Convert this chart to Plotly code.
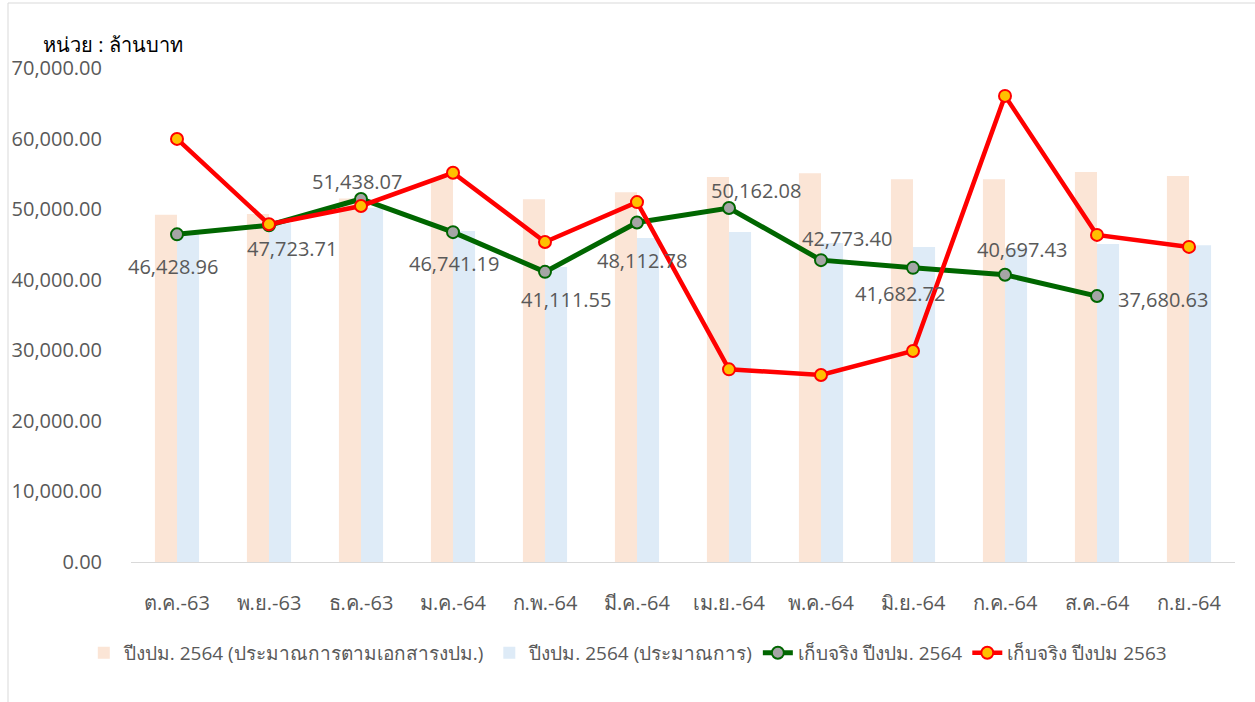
import plotly.graph_objects as go

months = ["ต.ค.-63", "พ.ย.-63", "ธ.ค.-63", "ม.ค.-64", "ก.พ.-64", "มี.ค.-64",
          "เม.ย.-64", "พ.ค.-64", "มิ.ย.-64", "ก.ค.-64", "ส.ค.-64", "ก.ย.-64"]
budget_doc_2564 = [49200, 49300, 51500, 54400, 51400, 52400,
                   54550, 55100, 54250, 54250, 55250, 54700]
budget_est_2564 = [46600, 48000, 50200, 46900, 41800, 45900,
                   46750, 45200, 44650, 44500, 45050, 44900]
actual_2564 = [46428.96, 47723.71, 51438.07, 46741.19, 41111.55, 48112.78,
               50162.08, 42773.40, 41682.72, 40697.43, 37680.63, None]
actual_2563 = [59950, 47850, 50450, 55150, 45350, 51000,
               27300, 26500, 29900, 66050, 46350, 44650]

series_names = ["ปีงปม. 2564 (ประมาณการตามเอกสารงปม.)", "ปีงปม. 2564 (ประมาณการ)",
                "เก็บจริง ปีงปม. 2564", "เก็บจริง ปีงปม 2563"]
unit_label = "หน่วย : ล้านบาท"
yticks = [0, 10000, 20000, 30000, 40000, 50000, 60000, 70000]

# label offsets (px) for green data labels
label_dx = [-4, 23, -4, 1, 21, 5, 27, 26, -13, 17, 66, 0]
label_dy = [-32, -23, 17, -31, -28, -38, 18, 22, -26, 25, -3, 0]

FONT = "Open Sans, Noto Sans, sans-serif"
GRAY = "#595959"

fig = go.Figure()
fig.add_trace(go.Bar(x=months, y=budget_doc_2564, name=series_names[0],
                     marker=dict(color="#FBE5D6", line=dict(width=0))))
fig.add_trace(go.Bar(x=months, y=budget_est_2564, name=series_names[1],
                     marker=dict(color="#DEEBF7", line=dict(width=0))))
fig.add_trace(go.Scatter(x=months, y=actual_2564, name=series_names[2], mode="lines+markers",
                         line=dict(color="#006600", width=5),
                         marker=dict(size=12, color="#A5A5A5", line=dict(color="#006600", width=2))))
fig.add_trace(go.Scatter(x=months, y=actual_2563, name=series_names[3], mode="lines+markers",
                         line=dict(color="#FF0000", width=4.5),
                         marker=dict(size=12, color="#FFC000", line=dict(color="#FF0000", width=2))))

annotations = []
for m, v, dx, dy in zip(months, actual_2564, label_dx, label_dy):
    if v is None:
        continue
    annotations.append(dict(x=m, y=v, xref="x", yref="y", text=f"{v:,.2f}", showarrow=False,
                            xshift=dx, yshift=dy, font=dict(size=20, color=GRAY, family=FONT)))
annotations.append(dict(xref="paper", yref="paper", x=-0.0815, y=1.047, xanchor="left",
                        yanchor="middle", text=unit_label, showarrow=False,
                        font=dict(size=20, color="#000000", family=FONT)))

fig.update_layout(
    width=1255, height=702,
    margin=dict(l=131, r=20, t=68, b=140),
    paper_bgcolor="white", plot_bgcolor="white",
    barmode="group", bargap=0.52, bargroupgap=0,
    font=dict(family=FONT, size=20, color=GRAY),
    showlegend=True,
    legend=dict(orientation="h", x=0.45, xanchor="center",
                y=-0.184, yanchor="middle",
                font=dict(size=19, color=GRAY), itemwidth=30, tracegroupgap=0),
    annotations=annotations,
    shapes=[dict(type="rect", xref="paper", yref="paper",
                 x0=(8 - 131) / 1104, x1=(1262 - 131) / 1104,
                 y0=(562 - 712) / 494, y1=(562 - 3) / 494,
                 line=dict(color="#D9D9D9", width=1))],
    hovermode=False,
)
fig.update_xaxes(range=[-0.5, 11.5], showline=True, linecolor="#D9D9D9", linewidth=1, ticks="",
                 showgrid=False, tickfont=dict(size=20, color=GRAY), ticklabelstandoff=23)
fig.update_yaxes(range=[0, 70000], tickvals=yticks, tickformat=",.2f", showgrid=False,
                 showline=False, zeroline=False, ticks="", tickfont=dict(size=20, color=GRAY),
                 ticklabelstandoff=28)

fig.write_html("out.html")
